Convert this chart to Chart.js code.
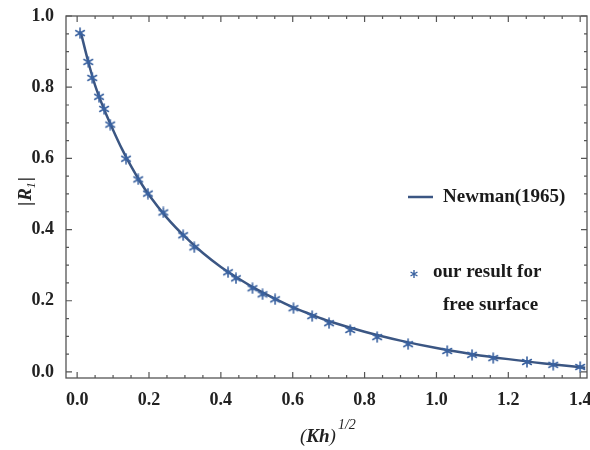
<!DOCTYPE html>
<html>
<head>
<meta charset="utf-8">
<script src="https://cdn.jsdelivr.net/npm/chart.js@4/dist/chart.umd.min.js"></script>
<style>
html,body{margin:0;padding:0;background:#fff;overflow:hidden;}
#wrap{width:590px;height:450px;position:relative;overflow:hidden;}
</style>
</head>
<body>
<div id="wrap"><canvas id="c" width="593" height="450"></canvas></div>
<script>
// Newman (1965) curve
const newmanX = [0.01,0.03,0.05,0.075,0.1,0.125,0.15,0.175,0.2,0.25,0.3,0.35,0.4,0.45,0.5,0.55,0.6,0.65,0.7,0.8,0.9,1.0,1.1,1.2,1.3,1.414];
const newmanY = [0.955,0.875,0.805,0.738,0.680,0.626,0.578,0.535,0.497,0.433,0.380,0.334,0.295,0.262,0.232,0.206,0.182,0.162,0.143,0.113,0.088,0.067,0.050,0.036,0.024,0.012];
// our result for free surface (stars)
const oursX = [0.008,0.031,0.042,0.061,0.075,0.092,0.136,0.170,0.197,0.240,0.295,0.326,0.420,0.442,0.488,0.516,0.551,0.602,0.654,0.701,0.760,0.835,0.921,1.030,1.099,1.158,1.252,1.325,1.400];
const oursY = [0.952,0.871,0.826,0.773,0.739,0.695,0.599,0.541,0.501,0.448,0.384,0.350,0.280,0.263,0.235,0.218,0.204,0.179,0.157,0.137,0.118,0.098,0.078,0.059,0.048,0.039,0.028,0.020,0.014];
// tick labels
const xTicks = [0.0,0.2,0.4,0.6,0.8,1.0,1.2,1.4];
const yTicks = [0.0,0.2,0.4,0.6,0.8,1.0];
const minorStep = 0.05;

const lineColor = '#3b5683';
const starColor = '#3a62a0';
const serif = '"Liberation Serif","DejaVu Serif",serif';

function drawAsterisk(ctx, sx, sy, r) {
  ctx.beginPath();
  for (let k = 0; k < 3; k++) {
    const ang = Math.PI / 2 + k * Math.PI / 3;
    ctx.moveTo(sx + r * Math.cos(ang), sy - r * Math.sin(ang));
    ctx.lineTo(sx - r * Math.cos(ang), sy + r * Math.sin(ang));
  }
  ctx.stroke();
}
const starImg = document.createElement('canvas');
starImg.width = 12; starImg.height = 12;
(function () {
  const c = starImg.getContext('2d');
  c.strokeStyle = starColor;
  c.lineWidth = 1.6;
  c.lineCap = 'round';
  drawAsterisk(c, 6, 6, 5);
})();

const framePlugin = {
  id: 'frame',
  afterDraw(chart) {
    const ctx = chart.ctx, a = chart.chartArea;
    const xs = chart.scales.x, ys = chart.scales.y;
    ctx.save();
    ctx.strokeStyle = '#555';
    ctx.lineWidth = 1.3;
    ctx.strokeRect(a.left, a.top, a.right - a.left, a.bottom - a.top);
    ctx.lineWidth = 1.2;
    for (let i = 0; i <= 28; i++) {
      const v = i * minorStep;
      const px = xs.getPixelForValue(v);
      if (px < a.left || px > a.right) continue;
      const len = i % 4 === 0 ? 6 : 3;
      ctx.beginPath();
      ctx.moveTo(px, a.bottom); ctx.lineTo(px, a.bottom - len);
      ctx.moveTo(px, a.top); ctx.lineTo(px, a.top + len);
      ctx.stroke();
    }
    for (let i = 0; i <= 20; i++) {
      const v = i * minorStep;
      const py = ys.getPixelForValue(v);
      if (py < a.top - 0.5 || py > a.bottom) continue;
      const len = i % 4 === 0 ? 6 : 3;
      ctx.beginPath();
      ctx.moveTo(a.left, py); ctx.lineTo(a.left + len, py);
      ctx.moveTo(a.right, py); ctx.lineTo(a.right - len, py);
      ctx.stroke();
    }
    // axis titles
    ctx.fillStyle = '#222';
    ctx.textBaseline = 'alphabetic';
    ctx.textAlign = 'left';
    let x0 = 300, y0 = 442;
    ctx.font = 'italic 19px ' + serif;
    ctx.fillText('(', x0, y0);
    let w = ctx.measureText('(').width;
    ctx.font = 'bold italic 19px ' + serif;
    ctx.fillText('Kh', x0 + w, y0);
    w += ctx.measureText('Kh').width;
    ctx.font = 'italic 19px ' + serif;
    ctx.fillText(')', x0 + w, y0);
    w += ctx.measureText(')').width + 2;
    ctx.font = 'italic 14px ' + serif;
    ctx.fillText('1/2', x0 + w, y0 - 13);
    // y title |R_1|
    ctx.save();
    ctx.translate(25, 206);
    ctx.rotate(-Math.PI / 2);
    ctx.font = 'bold 19px ' + serif;
    ctx.fillText('|', 0, 6);
    let t = ctx.measureText('|').width + 1;
    ctx.font = 'bold italic 19px ' + serif;
    ctx.fillText('R', t, 6);
    t += ctx.measureText('R').width;
    ctx.font = 'italic 12px ' + serif;
    ctx.fillText('1', t, 10);
    t += ctx.measureText('1').width + 1;
    ctx.font = 'bold 19px ' + serif;
    ctx.fillText('|', t, 6);
    ctx.restore();
    // legend
    ctx.strokeStyle = lineColor;
    ctx.lineWidth = 2.5;
    ctx.beginPath();
    ctx.moveTo(408, 197); ctx.lineTo(433, 197);
    ctx.stroke();
    ctx.font = 'bold 19px ' + serif;
    ctx.fillStyle = '#1a1a1a';
    ctx.textBaseline = 'middle';
    ctx.fillText('Newman(1965)', 443, 197);
    ctx.fillText('our result for', 433, 272);
    ctx.fillText('free surface', 443, 305);
    ctx.strokeStyle = starColor;
    ctx.lineWidth = 1.4;
    drawAsterisk(ctx, 414, 274, 4);
    ctx.restore();
  }
};

new Chart(document.getElementById('c'), {
  type: 'scatter',
  data: {
    datasets: [
      {
        label: 'Newman(1965)',
        data: newmanX.map((x, i) => ({x: x, y: newmanY[i]})),
        showLine: true,
        borderColor: lineColor,
        borderWidth: 2.5,
        pointRadius: 0,
        cubicInterpolationMode: 'monotone',
        order: 2
      },
      {
        label: 'our result for free surface',
        data: oursX.map((x, i) => ({x: x, y: oursY[i]})),
        showLine: false,
        pointStyle: starImg,
        pointRadius: 5,
        borderColor: starColor,
        backgroundColor: starColor,
        order: 1
      }
    ]
  },
  options: {
    responsive: false,
    animation: false,
    devicePixelRatio: 1,
    layout: {padding: {top: 16, right: 0, left: 0, bottom: 0}},
    plugins: {legend: {display: false}, tooltip: {enabled: false}},
    scales: {
      x: {
        type: 'linear',
        min: -0.031, max: 1.419,
        grid: {display: false},
        border: {display: false},
        afterBuildTicks(s) { s.ticks = xTicks.map(v => ({value: v})); },
        afterFit(s) { s.height = 72; s.paddingLeft = 0; s.paddingRight = 0; },
        ticks: {
          color: '#222',
          padding: 4,
          maxRotation: 0,
          font: {family: serif, size: 18, weight: 'bold'},
          callback: v => Number(v).toFixed(1)
        }
      },
      y: {
        type: 'linear',
        min: -0.017, max: 1.0,
        grid: {display: false},
        border: {display: false},
        afterBuildTicks(s) { s.ticks = yTicks.map(v => ({value: v})); },
        afterFit(s) { s.width = 66; s.paddingTop = 0; s.paddingBottom = 0; },
        ticks: {
          color: '#222',
          padding: 4,
          font: {family: serif, size: 18, weight: 'bold'},
          callback: v => Number(v).toFixed(1)
        }
      }
    }
  },
  plugins: [framePlugin]
});
</script>
</body>
</html>
